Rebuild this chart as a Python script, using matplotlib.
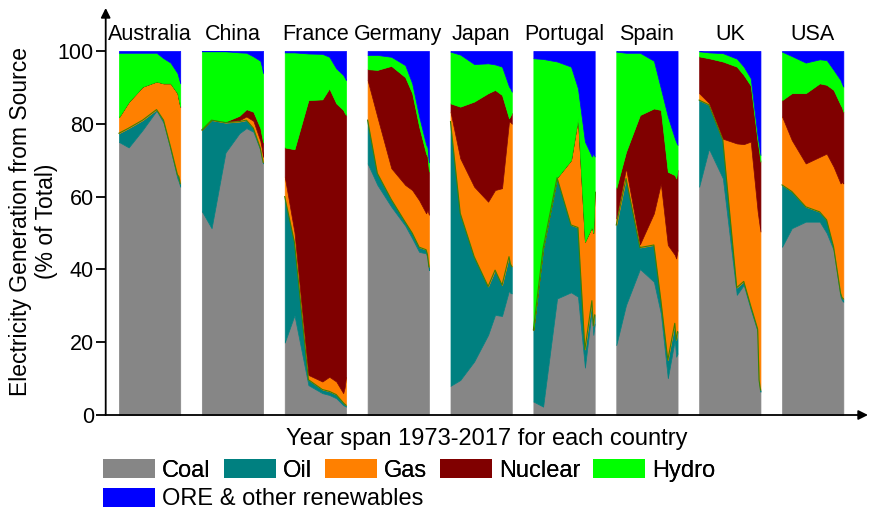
import numpy as np
import matplotlib
matplotlib.use("Agg")
import matplotlib.pyplot as plt
from matplotlib.patches import Patch

plt.rcParams['font.family'] = ['Liberation Sans', 'DejaVu Sans']

years = [1973, 1980, 1990, 2000, 2005, 2010, 2015, 2016, 2017]
countries = ['Australia', 'China', 'France', 'Germany', 'Japan',
             'Portugal', 'Spain', 'UK', 'USA']
sources = ['Coal', 'Oil', 'Gas', 'Nuclear', 'Hydro', 'ORE & other renewables']
colors = ['#868686', '#008080', '#FF8000', '#800000', '#00FF00', '#0000FF']

coal = {
    'Australia': [75.0, 73.5, 78.3, 83.6, 80.3, 73.0, 65.0, 64.0, 62.7],
    'China':     [56.0, 51.3, 72.1, 77.4, 78.8, 77.8, 72.8, 71.0, 69.1],
    'France':    [19.9, 27.4, 8.2, 6.0, 5.5, 4.6, 2.7, 2.5, 2.3],
    'Germany':   [69.1, 63.2, 57.2, 52.0, 48.5, 44.8, 44.4, 43.0, 39.8],
    'Japan':     [8.0, 9.6, 14.7, 22.0, 27.5, 27.2, 34.2, 33.5, 33.4],
    'Portugal':  [3.7, 2.3, 32.0, 33.7, 32.5, 13.0, 29.0, 22.0, 25.0],
    'Spain':     [19.2, 30.2, 40.1, 36.6, 27.9, 10.1, 20.6, 16.0, 16.9],
    'UK':        [62.7, 73.1, 65.0, 33.0, 35.7, 29.0, 22.9, 9.0, 6.4],
    'USA':       [46.2, 51.3, 53.1, 53.1, 50.0, 45.3, 32.5, 31.5, 31.1],
}
oil = {
    'Australia': [2.4, 5.3, 2.7, 0.3, 0.7, 0.7, 1.0, 1.5, 0.9],
    'China':     [22.3, 29.7, 8.2, 3.2, 2.2, 1.0, 0.5, 0.3, 0.3],
    'France':    [40.1, 20.0, 1.5, 1.0, 1.0, 1.0, 0.7, 0.5, 0.4],
    'Germany':   [11.9, 3.2, 2.0, 1.0, 1.5, 1.3, 1.0, 1.0, 0.9],
    'Japan':     [72.6, 45.8, 28.8, 13.3, 12.3, 8.5, 9.3, 8.0, 7.4],
    'Portugal':  [19.7, 43.5, 33.2, 18.5, 19.0, 5.0, 2.4, 2.5, 2.5],
    'Spain':     [33.0, 34.8, 5.9, 10.1, 3.7, 5.0, 4.6, 4.6, 6.0],
    'UK':        [23.8, 12.1, 10.5, 2.0, 1.0, 1.0, 0.7, 0.6, 0.5],
    'USA':       [17.0, 10.1, 4.1, 2.7, 3.6, 0.9, 1.0, 0.8, 0.8],
}
gas = {
    'Australia': [4.4, 7.2, 9.2, 7.7, 10.1, 17.4, 22.4, 21.0, 21.1],
    'China':     [0.1, 0.1, 0.3, 0.4, 1.0, 2.0, 2.0, 2.0, 1.5],
    'France':    [5.5, 2.8, 1.3, 2.2, 4.0, 3.6, 2.6, 4.5, 7.8],
    'Germany':   [11.0, 15.5, 8.6, 10.2, 11.8, 12.9, 10.0, 12.3, 14.3],
    'Japan':     [2.7, 15.1, 19.2, 23.3, 22.0, 26.6, 37.1, 39.0, 39.2],
    'Portugal':  [0.0, 0.0, 0.0, 17.8, 30.0, 29.6, 20.3, 25.5, 33.9],
    'Spain':     [1.8, 2.8, 0.9, 8.7, 32.0, 31.6, 18.8, 22.4, 22.4],
    'UK':        [1.9, 0.5, 0.4, 39.6, 37.7, 45.1, 32.3, 43.5, 43.5],
    'USA':       [18.8, 14.1, 11.9, 15.1, 18.2, 22.0, 30.1, 31.7, 31.7],
}
nuclear = {
    'Australia': [0, 0, 0, 0, 0, 0, 0, 0, 0],
    'China':     [0, 0, 0, 1.2, 2.0, 2.5, 3.5, 3.5, 4.0],
    'France':    [8.0, 22.8, 75.5, 77.5, 79.2, 76.4, 77.8, 75.5, 71.9],
    'Germany':   [3.0, 12.9, 28.1, 29.6, 26.6, 20.2, 16.4, 14.7, 11.9],
    'Japan':     [2.3, 14.2, 23.4, 29.8, 27.5, 25.6, 0.9, 1.7, 3.0],
    'Portugal':  [0, 0, 0, 0, 0, 0, 0, 0, 0],
    'Spain':     [8.3, 4.5, 35.5, 28.8, 20.2, 20.1, 21.9, 22.0, 22.0],
    'UK':        [10.1, 12.3, 21.2, 21.1, 19.0, 15.4, 19.1, 19.5, 19.2],
    'USA':       [4.5, 12.9, 19.3, 20.2, 18.9, 21.1, 21.6, 20.5, 19.7],
}
hydro = {
    'Australia': [17.7, 13.5, 9.3, 7.9, 6.9, 5.7, 5.5, 6.0, 6.4],
    'China':     [21.5, 18.8, 19.3, 17.4, 15.5, 15.2, 18.5, 19.0, 19.0],
    'France':    [26.1, 26.6, 12.8, 12.5, 8.7, 9.6, 9.6, 9.7, 9.6],
    'Germany':   [3.9, 4.1, 2.5, 3.3, 2.7, 2.8, 2.5, 2.5, 2.5],
    'Japan':     [14.2, 14.3, 10.3, 8.2, 7.0, 7.8, 8.7, 7.5, 5.8],
    'Portugal':  [74.6, 52.0, 31.9, 25.7, 8.2, 27.5, 19.3, 21.9, 9.6],
    'Spain':     [37.5, 27.2, 17.1, 13.1, 5.9, 15.2, 10.1, 10.0, 6.9],
    'UK':        [1.4, 1.6, 2.3, 2.2, 2.3, 2.0, 1.5, 1.5, 1.8],
    'USA':       [13.3, 10.2, 8.4, 6.6, 6.8, 5.5, 6.8, 6.5, 6.9],
}
ore = {
    'Australia': [0.5, 0.5, 0.5, 0.5, 2.0, 3.2, 6.1, 7.5, 8.9],
    'China':     [0.1, 0.1, 0.1, 0.4, 0.5, 1.5, 2.7, 4.2, 6.1],
    'France':    [0.4, 0.4, 0.7, 0.8, 1.6, 4.8, 6.6, 7.3, 8.0],
    'Germany':   [1.1, 1.1, 1.6, 3.9, 8.9, 18.0, 25.7, 26.5, 30.6],
    'Japan':     [0.2, 1.0, 3.6, 3.4, 3.7, 4.3, 9.8, 10.3, 11.2],
    'Portugal':  [2.0, 2.2, 2.9, 4.3, 10.3, 24.9, 29.0, 28.1, 29.0],
    'Spain':     [0.2, 0.5, 0.5, 2.7, 10.3, 18.0, 24.0, 25.0, 25.8],
    'UK':        [0.1, 0.4, 0.6, 2.1, 4.3, 7.5, 23.5, 25.9, 28.6],
    'USA':       [0.2, 1.4, 3.2, 2.3, 2.5, 5.2, 8.0, 9.0, 9.8],
}
yticks = [0, 20, 40, 60, 80, 100]

STRIDE = 59.5  # panel spacing in year units

fig = plt.figure(figsize=(8.69, 5.12), dpi=100)
ax = fig.add_axes([105.7 / 869, 1 - 415 / 512, (868 - 105.7) / 869, (415 - 8) / 512])

yr = np.array(years, dtype=float) - years[0]
for i, c in enumerate(countries):
    x = i * STRIDE + yr
    polys = ax.stackplot(x, coal[c], oil[c], gas[c], nuclear[c], hydro[c], ore[c],
                         colors=colors)
    for p, col in zip(polys, colors):
        p.set_edgecolor(col)
        p.set_linewidth(0.5)
    # thin olive edge along the top of the oil layer
    ax.plot(x, np.array(coal[c]) + np.array(oil[c]), color='#3f8000', lw=0.8)
    ax.text(i * STRIDE + yr[-1] / 2, 103, c, ha='center', va='baseline', fontsize=15.5)

ax.set_xlim(-9.5, 537.7)
ax.set_ylim(0, 111.8)
ax.set_xticks([])
ax.set_yticks(yticks)
ax.set_yticklabels([str(t) for t in yticks], fontsize=15.5)
ax.tick_params(axis='y', direction='out', length=7, width=1.3, pad=1.5)
for s in ['top', 'right', 'bottom', 'left']:
    ax.spines[s].set_visible(False)
ax.patch.set_alpha(0)

# axis lines with arrow heads
ax.annotate('', xy=(1, 0), xycoords='axes fraction', xytext=(0, 0),
            arrowprops=dict(arrowstyle='-|>', lw=1.3, color='black',
                            mutation_scale=14, shrinkA=0, shrinkB=0), annotation_clip=False)
ax.annotate('', xy=(0, 1), xycoords='axes fraction', xytext=(0, 0),
            arrowprops=dict(arrowstyle='-|>', lw=1.3, color='black',
                            mutation_scale=14, shrinkA=0, shrinkB=0), annotation_clip=False)

ax.set_xlabel('Year span 1973-2017 for each country', fontsize=17, labelpad=9)

fig.text(21 / 869, 1 - 221 / 512, 'Electricity Generation from Source', rotation=90,
         ha='center', va='center', fontsize=16.5)
fig.text(46 / 869, 1 - 221 / 512, '(% of Total)', rotation=90,
         ha='center', va='center', fontsize=16.5)

handles = [Patch(facecolor=col, edgecolor='none') for col in colors]
leg1 = fig.legend(handles[:5], sources[:5], loc='center left',
                  bbox_to_anchor=(103 / 869, 1 - 470.3 / 512), ncol=5, frameon=False,
                  fontsize=17, handlelength=2.2, handleheight=0.85, handletextpad=0.3,
                  columnspacing=0.55, borderpad=0, borderaxespad=0)
leg2 = fig.legend(handles[5:], sources[5:], loc='center left',
                  bbox_to_anchor=(103 / 869, 1 - 499 / 512), ncol=1, frameon=False,
                  fontsize=17, handlelength=2.2, handleheight=0.85, handletextpad=0.3,
                  borderpad=0, borderaxespad=0)
fig.add_artist(leg1)

fig.savefig('out.png', dpi=100)
